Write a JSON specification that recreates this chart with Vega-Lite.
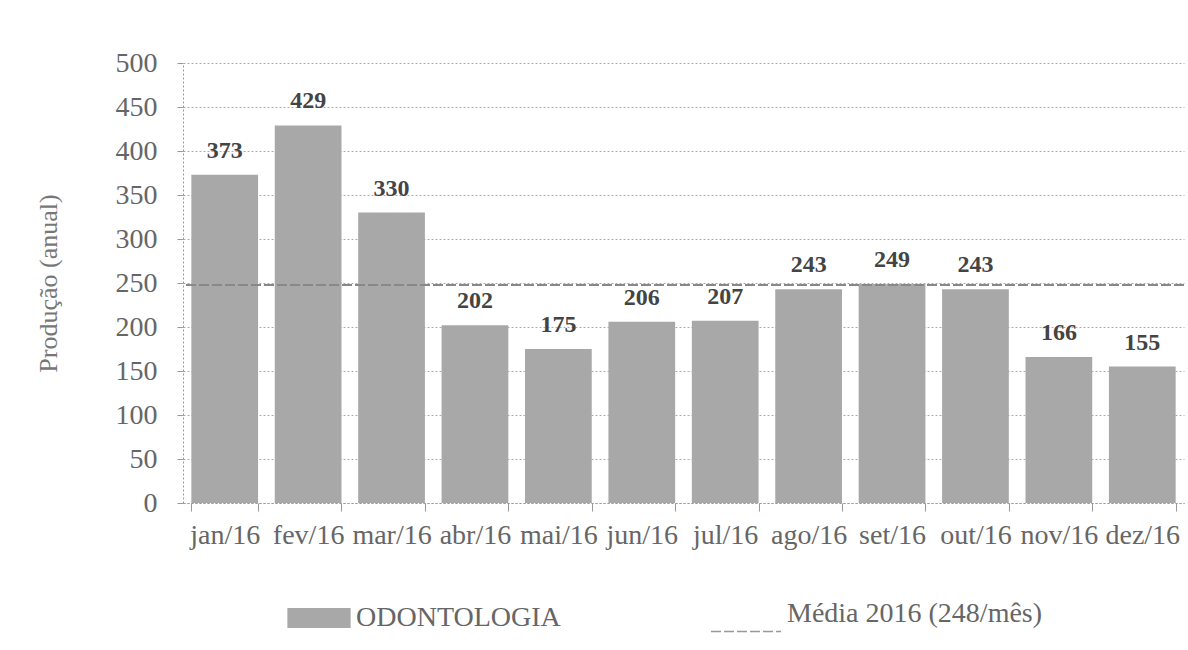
{
  "$schema": "https://vega.github.io/schema/vega-lite/v6.json",
  "width": 1001,
  "height": 440,
  "autosize": {"type": "none"},
  "padding": {"left": 183, "top": 63, "right": 4, "bottom": 147},
  "background": "white",
  "config": {
    "view": {"stroke": null},
    "font": "Liberation Serif",
    "axis": {"labelFont": "Liberation Serif", "titleFont": "Liberation Serif"},
    "legend": {"labelFont": "Liberation Serif"},
    "text": {"font": "Liberation Serif"}
  },
  "data": {
    "values": [
      {"mes": "jan/16", "valor": 373},
      {"mes": "fev/16", "valor": 429},
      {"mes": "mar/16", "valor": 330},
      {"mes": "abr/16", "valor": 202},
      {"mes": "mai/16", "valor": 175},
      {"mes": "jun/16", "valor": 206},
      {"mes": "jul/16", "valor": 207},
      {"mes": "ago/16", "valor": 243},
      {"mes": "set/16", "valor": 249},
      {"mes": "out/16", "valor": 243},
      {"mes": "nov/16", "valor": 166},
      {"mes": "dez/16", "valor": 155}
    ]
  },
  "layer": [
    {
      "mark": {"type": "bar", "color": "#a8a8a8"},
      "encoding": {
        "x": {
          "field": "mes", "type": "nominal", "sort": null,
          "scale": {"paddingInner": 0.2, "paddingOuter": 0.1},
          "axis": {
            "title": null, "labelAngle": 0, "labelFont": "Liberation Serif", "labelFontSize": 28, "labelColor": "#666",
            "labelPadding": 10, "domainColor": "#999", "domainDash": [2, 2],
            "tickColor": "#999", "tickBand": "extent", "tickSize": 8, "labelOverlap": false
          }
        },
        "y": {
          "field": "valor", "type": "quantitative",
          "scale": {"domain": [0, 500]},
          "axis": {
            "title": "Produção (anual)", "titleFont": "Liberation Serif", "titleFontSize": 26, "titleColor": "#777", "titleFontWeight": "normal",
            "titlePadding": 54,
            "values": [0, 50, 100, 150, 200, 250, 300, 350, 400, 450, 500],
            "labelFont": "Liberation Serif", "labelFontSize": 28, "labelColor": "#666", "labelPadding": 20,
            "domainColor": "#999", "domainDash": [2, 2],
            "tickColor": "#999", "tickSize": 6,
            "gridColor": "#999", "gridDash": [2, 2], "gridOpacity": 0.8
          }
        },
        "color": {
          "datum": "ODONTOLOGIA",
          "scale": {"range": ["#a8a8a8"]},
          "legend": {
            "title": null, "orient": "none", "legendX": 104, "legendY": 523,
            "symbolType": "M-1,-0.32H1V0.32H-1Z", "symbolSize": 4000, "symbolStrokeWidth": 0,
            "labelFont": "Liberation Serif", "labelFontSize": 28, "labelColor": "#666", "labelOffset": 5, "labelLimit": 500
          }
        }
      }
    },
    {
      "mark": {"type": "text", "baseline": "middle", "dy": -24, "fontSize": 24, "fontWeight": "bold", "color": "#444", "font": "Liberation Serif"},
      "encoding": {
        "x": {"field": "mes", "type": "nominal", "sort": null},
        "y": {"field": "valor", "type": "quantitative"},
        "text": {"field": "valor", "type": "quantitative"}
      }
    },
    {
      "mark": {"type": "rule", "color": "#888", "strokeWidth": 1.5, "strokeDash": [10, 3]},
      "encoding": {
        "y": {"datum": 248},
        "strokeDash": {
          "datum": "Média 2016 (248/mês)",
          "scale": {"range": [[10, 3]]},
          "legend": {
            "title": null, "orient": "none", "legendX": 527, "legendY": 515,
            "symbolType": "M-1,0.5H1", "symbolSize": 4900, "symbolStrokeColor": "#999", "symbolStrokeWidth": 1.5,
            "labelFont": "Liberation Serif", "labelFontSize": 28, "labelColor": "#666", "labelOffset": 5, "labelLimit": 500
          }
        }
      }
    }
  ]
}
